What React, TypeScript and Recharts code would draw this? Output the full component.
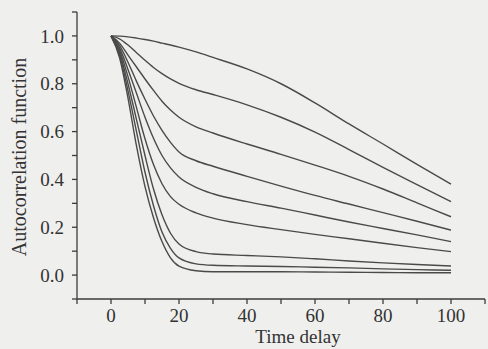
import React from 'react';
import { LineChart, Line, XAxis, YAxis, Label } from 'recharts';

// time delay sample points
const delays = [0, 2.5, 5, 7.5, 10, 12.5, 15, 17.5, 20, 25, 30, 40, 50, 60, 70, 80, 90, 100];

// autocorrelation curves, top to bottom
const curve1 = [1, 0.999, 0.996, 0.991, 0.985, 0.978, 0.97, 0.962, 0.953, 0.933, 0.91, 0.862, 0.8, 0.72, 0.632, 0.548, 0.463, 0.38];
const curve2 = [1, 0.988, 0.962, 0.93, 0.898, 0.868, 0.842, 0.82, 0.802, 0.775, 0.755, 0.712, 0.66, 0.598, 0.525, 0.45, 0.378, 0.307];
const curve3 = [1, 0.97, 0.92, 0.87, 0.82, 0.772, 0.727, 0.69, 0.66, 0.62, 0.594, 0.548, 0.505, 0.46, 0.413, 0.36, 0.302, 0.244];
const curve4 = [1, 0.96, 0.89, 0.81, 0.735, 0.665, 0.605, 0.555, 0.515, 0.478, 0.455, 0.413, 0.372, 0.333, 0.297, 0.261, 0.225, 0.188];
const curve5 = [1, 0.95, 0.86, 0.76, 0.66, 0.572, 0.5, 0.448, 0.41, 0.367, 0.34, 0.307, 0.28, 0.251, 0.222, 0.195, 0.168, 0.14];
const curve6 = [1, 0.94, 0.83, 0.7, 0.57, 0.462, 0.382, 0.328, 0.296, 0.26, 0.238, 0.211, 0.19, 0.17, 0.152, 0.133, 0.115, 0.098];
const curve7 = [1, 0.93, 0.8, 0.65, 0.5, 0.36, 0.252, 0.175, 0.13, 0.098, 0.088, 0.082, 0.076, 0.068, 0.059, 0.051, 0.044, 0.038];
const curve8 = [1, 0.92, 0.77, 0.6, 0.43, 0.29, 0.18, 0.112, 0.072, 0.047, 0.041, 0.038, 0.036, 0.033, 0.03, 0.026, 0.023, 0.02];
const curve9 = [1, 0.91, 0.74, 0.54, 0.37, 0.24, 0.14, 0.072, 0.037, 0.018, 0.014, 0.014, 0.014, 0.013, 0.012, 0.011, 0.01, 0.01];

const curves = [curve1, curve2, curve3, curve4, curve5, curve6, curve7, curve8, curve9];

const xTicks = [-10, 0, 10, 20, 30, 40, 50, 60, 70, 80, 90, 100, 110];
const yTicks = [-0.1, 0, 0.1, 0.2, 0.3, 0.4, 0.5, 0.6, 0.7, 0.8, 0.9, 1.0, 1.1];

const data = delays.map((t, i) => {
  const row: Record<string, number> = { t };
  curves.forEach((c, k) => {
    row[`c${k + 1}`] = c[i];
  });
  return row;
});

const font = '"Liberation Serif", "DejaVu Serif", serif';
const ink = '#3c3c3c';

export default function App() {
  return (
    <div style={{ width: 488, height: 349, background: '#efefee' }}>
      <style>{'body{margin:0}'}</style>
      <LineChart width={488} height={349} data={data} margin={{ top: 12, right: 3, bottom: 20, left: 0 }}>
        <XAxis
          dataKey="t"
          type="number"
          domain={[-10, 110]}
          ticks={xTicks}
          interval={0}
          tickSize={5}
          tickMargin={5}
          stroke={ink}
          strokeWidth={1.3}
          height={30}
          tick={{ fill: '#333', fontSize: 19, fontFamily: font }}
          tickFormatter={(v: number) => (v >= 0 && v <= 100 && v % 20 === 0 ? String(v) : '')}
        >
          <Label
            content={() => (
              <text x={298} y={343} textAnchor="middle" fontSize={19} fontFamily={font} fill="#333">
                Time delay
              </text>
            )}
          />
        </XAxis>
        <YAxis
          type="number"
          domain={[-0.1, 1.1]}
          ticks={yTicks}
          interval={0}
          width={77}
          tickSize={5}
          tickMargin={8}
          stroke={ink}
          strokeWidth={1.3}
          tick={{ fill: '#333', fontSize: 19, fontFamily: font }}
          tickFormatter={(v: number) => {
            const k = Math.round(v * 10);
            return k >= 0 && k <= 10 && k % 2 === 0 ? (k / 10).toFixed(1) : '';
          }}
        >
          <Label
            content={() => (
              <text
                x={26}
                y={157}
                transform="rotate(-90 26 157)"
                textAnchor="middle"
                fontSize={20}
                fontFamily={font}
                fill="#333"
              >
                Autocorrelation function
              </text>
            )}
          />
        </YAxis>
        {curves.map((_, k) => (
          <Line
            key={k}
            type="monotone"
            dataKey={`c${k + 1}`}
            stroke="#4a4a4a"
            strokeWidth={1.4}
            dot={false}
            isAnimationActive={false}
          />
        ))}
      </LineChart>
    </div>
  );
}
